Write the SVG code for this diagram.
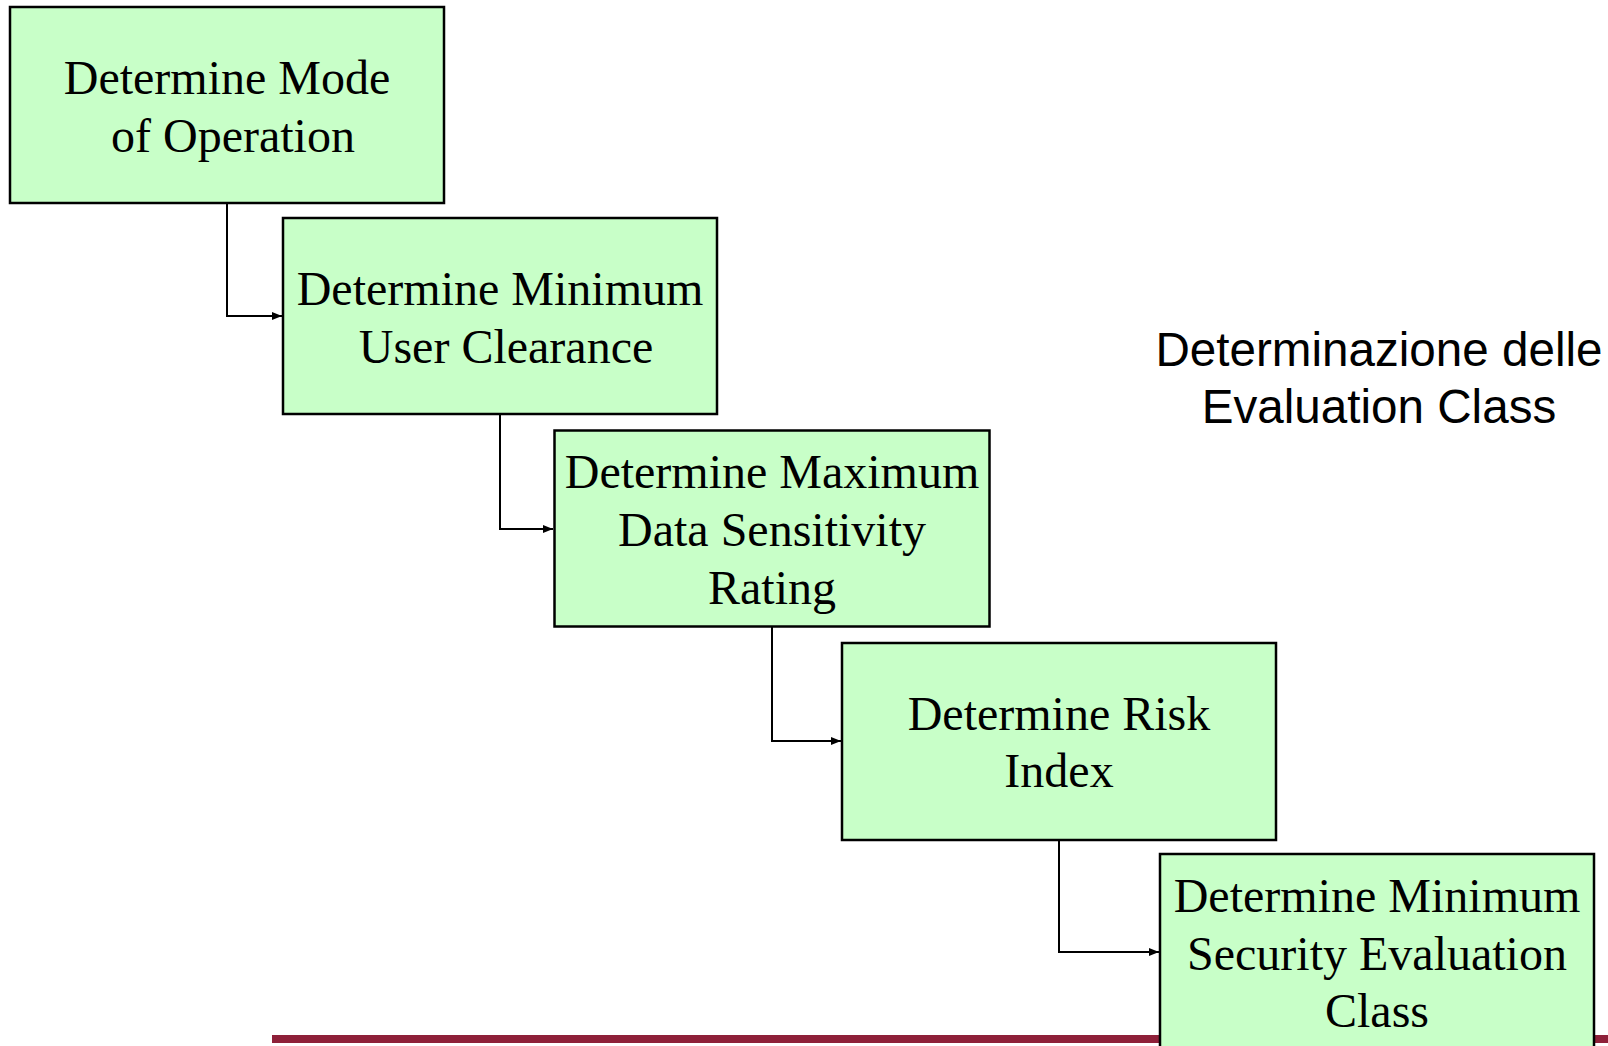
<svg xmlns="http://www.w3.org/2000/svg" width="1608" height="1046" viewBox="0 0 1608 1046">
  <style>
    .box { fill: #C8FFC8; stroke: #000; stroke-width: 2.5; }
    .lbl { font-family: "Liberation Serif", "Times New Roman", serif; font-size: 48px; fill: #000; text-anchor: middle; }
    .note { font-family: "Liberation Sans", Arial, sans-serif; font-size: 47.6px; fill: #000; text-anchor: middle; }
    .conn { fill: none; stroke: #000; stroke-width: 2; }
  </style>
  <defs>
    <marker id="arrow" viewBox="0 0 10 8" refX="10" refY="4" markerWidth="10" markerHeight="8" markerUnits="userSpaceOnUse" orient="auto">
      <path d="M0,0 L10,4 L0,8 Z" fill="#000"/>
    </marker>
  </defs>

  <rect width="1608" height="1046" fill="#fff"/>

  <!-- footer bar -->
  <rect x="272" y="1035" width="1336" height="8" fill="#8E2039"/>

  <!-- connectors -->
  <g id="connectors">
    <path class="conn" d="M227,203 V316 H282" marker-end="url(#arrow)"/>
    <path class="conn" d="M500,414 V529 H553" marker-end="url(#arrow)"/>
    <path class="conn" d="M772,627 V741 H841" marker-end="url(#arrow)"/>
    <path class="conn" d="M1059,840 V952 H1159" marker-end="url(#arrow)"/>
  </g>

  <g id="step-mode">
    <rect class="box" x="10" y="7" width="434" height="196"/>
    <text class="lbl" x="227" y="94">Determine Mode</text>
    <text class="lbl" x="233" y="152">of Operation</text>
  </g>

  <g id="step-clearance">
    <rect class="box" x="283" y="218" width="434" height="196"/>
    <text class="lbl" x="500" y="305">Determine Minimum</text>
    <text class="lbl" x="506" y="363">User Clearance</text>
  </g>

  <g id="step-sensitivity">
    <rect class="box" x="554.5" y="430.5" width="435" height="196"/>
    <text class="lbl" x="772" y="488">Determine Maximum</text>
    <text class="lbl" x="772" y="546">Data Sensitivity</text>
    <text class="lbl" x="772" y="604">Rating</text>
  </g>

  <g id="step-risk">
    <rect class="box" x="842" y="643" width="434" height="197"/>
    <text class="lbl" x="1059" y="730">Determine Risk</text>
    <text class="lbl" x="1059" y="787">Index</text>
  </g>

  <g id="step-class">
    <rect class="box" x="1160" y="854" width="434" height="210"/>
    <text class="lbl" x="1377" y="912">Determine Minimum</text>
    <text class="lbl" x="1377" y="970">Security Evaluation</text>
    <text class="lbl" x="1377" y="1027">Class</text>
  </g>

  <g id="caption">
    <text class="note" x="1379" y="366">Determinazione delle</text>
    <text class="note" x="1379" y="423">Evaluation Class</text>
  </g>
</svg>
